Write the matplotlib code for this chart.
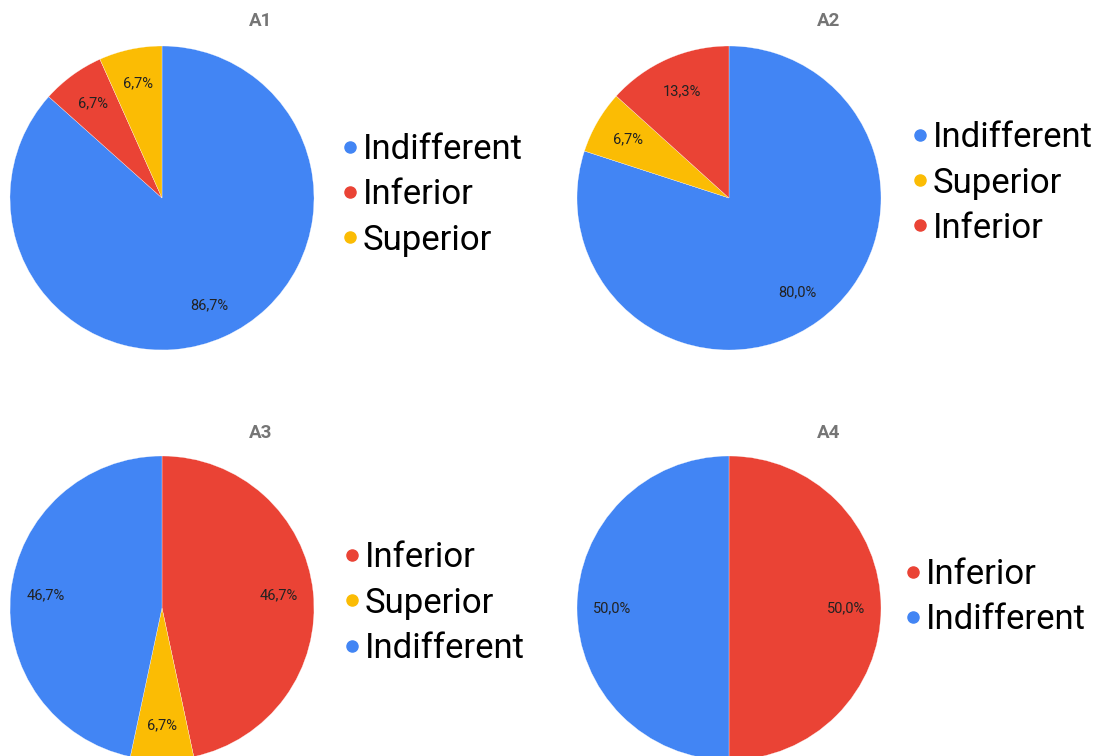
import matplotlib.pyplot as plt
from matplotlib.lines import Line2D

plt.rcParams['font.family'] = ['Roboto', 'DejaVu Sans']

BLUE = '#4285F4'
RED = '#EA4335'
YELLOW = '#FBBC04'
COLORS = {'Indifferent': BLUE, 'Inferior': RED, 'Superior': YELLOW}

# data, in the order the slices are drawn (clockwise from 12 o'clock)
a1_labels = ['Indifferent', 'Inferior', 'Superior']
a1_values = [86.7, 6.7, 6.7]
a2_labels = ['Indifferent', 'Superior', 'Inferior']
a2_values = [80.0, 6.7, 13.3]
a3_labels = ['Inferior', 'Superior', 'Indifferent']
a3_values = [46.7, 6.7, 46.7]
a4_labels = ['Inferior', 'Indifferent']
a4_values = [50.0, 50.0]

W, H = 1102, 756
R = 152  # pie radius in px


def fmt(v):
    return f"{v:.1f}%".replace('.', ',')


def draw_pie(fig, title, labels, values, cx, cy, title_x, title_y, leg_x, leg_y):
    ax = fig.add_axes([(cx - R) / W, (H - cy - R) / H, 2 * R / W, 2 * R / H])
    it = iter(values)
    ax.pie(values, colors=[COLORS[l] for l in labels], startangle=90, counterclock=False,
           radius=1, autopct=lambda p: fmt(next(it)), pctdistance=0.77,
           wedgeprops=dict(edgecolor='white', linewidth=0.2),
           textprops=dict(fontsize=10.5, color='#222222'))
    ax.set_xlim(-1, 1)
    ax.set_ylim(-1, 1)
    ax.set_aspect('equal')
    ax.axis('off')

    fig.text(title_x / W, 1 - title_y / H, title, ha='center', va='center',
             fontsize=13.5, fontweight='bold', color='#757575')

    handles = [Line2D([], [], marker='o', linestyle='none', markersize=8,
                      markerfacecolor=COLORS[l], markeredgecolor=COLORS[l]) for l in labels]
    fig.legend(handles, labels, loc='center left',
               bbox_to_anchor=(leg_x / W, 1 - leg_y / H),
               frameon=False, fontsize=25, handletextpad=0.05, handlelength=0.6,
               labelspacing=0.35, borderpad=0, borderaxespad=0)


fig = plt.figure(figsize=(W / 100, H / 100), dpi=100)

draw_pie(fig, 'A1', a1_labels, a1_values, 162, 198, 261, 21, 340, 195)
draw_pie(fig, 'A2', a2_labels, a2_values, 729, 198, 829, 21, 910, 183)
draw_pie(fig, 'A3', a3_labels, a3_values, 162, 608, 261, 433, 342, 603)
draw_pie(fig, 'A4', a4_labels, a4_values, 729, 608, 829, 433, 903, 597)

fig.savefig('out.png', dpi=100, facecolor='white')
